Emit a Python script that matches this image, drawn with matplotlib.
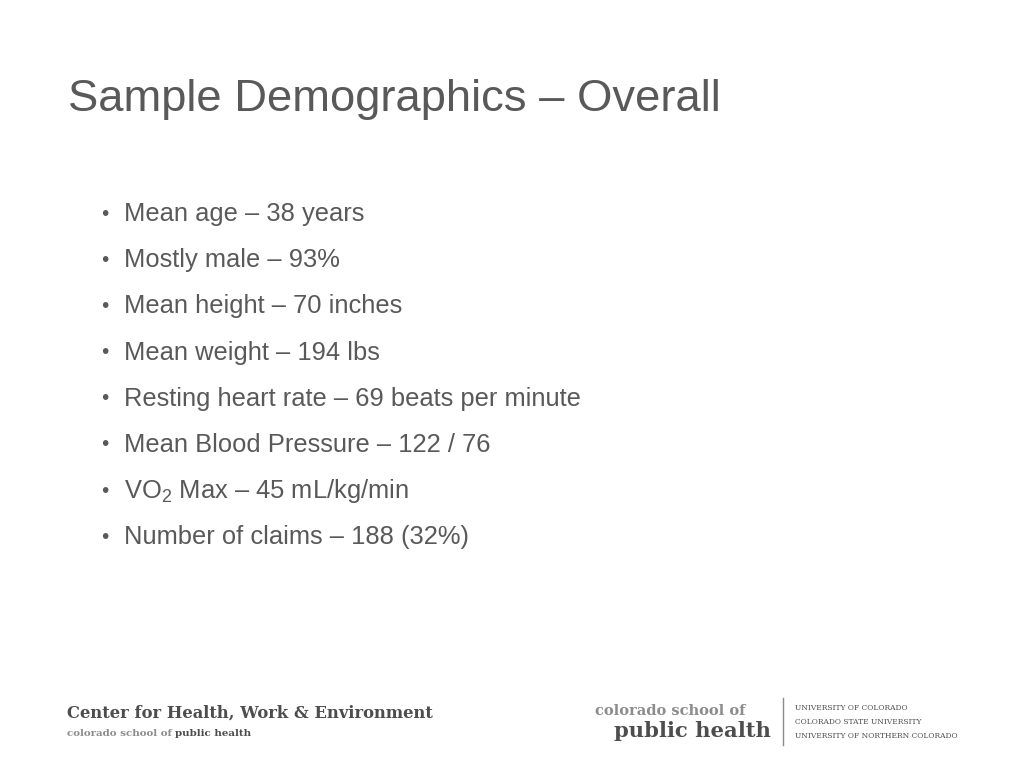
import matplotlib
matplotlib.use("Agg")
import matplotlib.pyplot as plt

title = "Sample Demographics – Overall"
bullets = [
    "Mean age – 38 years",
    "Mostly male – 93%",
    "Mean height – 70 inches",
    "Mean weight – 194 lbs",
    "Resting heart rate – 69 beats per minute",
    "Mean Blood Pressure – 122 / 76",
    "VO$_2$ Max – 45 mL/kg/min",
    "Number of claims – 188 (32%)",
]
footer_left = ["Center for Health, Work & Environment", "colorado school of", "public health"]
universities = [
    "UNIVERSITY OF COLORADO",
    "COLORADO STATE UNIVERSITY",
    "UNIVERSITY OF NORTHERN COLORADO",
]

plt.rcParams["font.family"] = ["Liberation Sans", "DejaVu Sans"]
plt.rcParams["mathtext.fontset"] = "custom"
plt.rcParams["mathtext.rm"] = "Liberation Sans"
plt.rcParams["mathtext.it"] = "Liberation Sans"

W, H = 1024, 768
fig = plt.figure(figsize=(W / 100, H / 100), dpi=100)
fig.patch.set_facecolor("white")


def px(x, y):
    # pixel position (from top-left) to figure fraction
    return x / W, 1 - y / H


text_grey = "#595959"
dark = "#4d4d4d"
light = "#8c8c8c"

fig.text(*px(68, 99), title, fontsize=32.7, color=text_grey, va="center", ha="left")

for i, item in enumerate(bullets):
    y = 214 + i * 46.2
    fig.text(*px(101, y), "•", fontsize=15, color=text_grey, va="center", ha="left")
    fig.text(*px(124, y), item, fontsize=18.4, color=text_grey, va="center", ha="left")

serif = ["DejaVu Serif"]
fig.text(*px(67, 713), footer_left[0], fontsize=11.75, fontweight="bold",
         family=serif, color=dark, va="center", ha="left")
t = fig.text(*px(67, 733), footer_left[1], fontsize=7.4, fontweight="bold",
             family=serif, color=light, va="center", ha="left")
fig.canvas.draw()
bb = t.get_window_extent()
fig.text((bb.x1 + 3) / W, 1 - 733 / H, footer_left[2], fontsize=7.4, fontweight="bold",
         family=serif, color=dark, va="center", ha="left")

fig.text(*px(595, 711), "colorado school of", fontsize=10.5, fontweight="bold",
         family=serif, color=light, va="center", ha="left")
fig.text(*px(614, 731), "public health", fontsize=15.2, fontweight="bold",
         family=serif, color=dark, va="center", ha="left")

ax = fig.add_axes([0, 0, 1, 1])
ax.set_xlim(0, W)
ax.set_ylim(H, 0)
ax.axis("off")
ax.plot([783, 783], [698, 745], color="#8c8c8c", lw=1)

for i, name in enumerate(universities):
    fig.text(*px(795, 708 + i * 14), name, fontsize=5.4, family=serif,
             color=dark, va="center", ha="left")

fig.savefig("out.png", dpi=100, facecolor="white")
